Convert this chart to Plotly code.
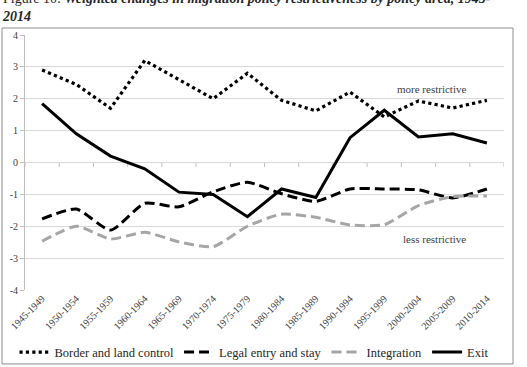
import plotly.graph_objects as go

periods = ["1945-1949", "1950-1954", "1955-1959", "1960-1964", "1965-1969", "1970-1974",
           "1975-1979", "1980-1984", "1985-1989", "1990-1994", "1995-1999", "2000-2004",
           "2005-2009", "2010-2014"]
border = [2.9, 2.45, 1.7, 3.2, 2.6, 2.0, 2.8, 1.95, 1.62, 2.21, 1.43, 1.93, 1.71, 1.95]
legal = [-1.77, -1.46, -2.12, -1.28, -1.39, -0.92, -0.62, -0.98, -1.22, -0.83, -0.83, -0.86, -1.11, -0.83]
integration = [-2.47, -2.0, -2.4, -2.19, -2.49, -2.64, -2.0, -1.62, -1.72, -1.96, -1.95, -1.35, -1.07, -1.05]
exit_ = [1.85, 0.9, 0.2, -0.2, -0.93, -1.0, -1.7, -0.83, -1.1, 0.78, 1.64, 0.8, 0.9, 0.61]
yticks = [-4, -3, -2, -1, 0, 1, 2, 3, 4]

SERIF = "Liberation Serif"

fig = go.Figure()
fig.add_trace(go.Scatter(x=periods, y=border, name="Border and land control", mode="lines",
                         line=dict(color="black", width=3.2, dash="dot")))
fig.add_trace(go.Scatter(x=periods, y=legal, name="Legal entry and stay", mode="lines",
                         line=dict(color="black", width=3, dash="10px,5px", shape="spline", smoothing=0.6)))
fig.add_trace(go.Scatter(x=periods, y=integration, name="Integration", mode="lines",
                         line=dict(color="#a6a6a6", width=3, dash="10px,5px", shape="spline", smoothing=0.6)))
fig.add_trace(go.Scatter(x=periods, y=exit_, name="Exit", mode="lines",
                         line=dict(color="black", width=3)))

shapes = []
# outer chart border
shapes.append(dict(type="rect", xref="paper", yref="paper", x0=-0.048, x1=1.0188, y0=-0.29, y1=1.0275,
                   line=dict(color="#8c8c8c", width=1), fillcolor="rgba(0,0,0,0)", layer="above"))
# category-axis line at zero with tick marks at category boundaries
shapes.append(dict(type="line", xref="paper", yref="y", x0=0, x1=1, y0=0, y1=0,
                   line=dict(color="#bfbfbf", width=1), layer="below"))
for i in range(len(periods) + 1):
    shapes.append(dict(type="line", xref="x", yref="y", x0=i - 0.5, x1=i - 0.5, y0=0, y1=-0.14,
                       line=dict(color="#bfbfbf", width=1), layer="below"))

fig.update_layout(
    width=527, height=367,
    margin=dict(l=25, r=23, t=35, b=77, autoexpand=False),
    paper_bgcolor="white", plot_bgcolor="white",
    font=dict(family=SERIF, color="#404040"),
    showlegend=True,
    legend=dict(orientation="h", x=0.478, xanchor="center", y=-0.245, yanchor="middle",
                font=dict(family=SERIF, size=12.5, color="#262626"), tracegroupgap=0,
                itemwidth=30, bgcolor="rgba(0,0,0,0)"),
    shapes=shapes,
    xaxis=dict(type="category", range=[-0.5, len(periods) - 0.5], showgrid=False, automargin=False,
               tickangle=-45, tickfont=dict(family=SERIF, size=10, color="#404040"),
               showline=False, ticks="", zeroline=False),
    yaxis=dict(range=[-4, 4], tickvals=yticks, ticktext=[str(v) for v in yticks], automargin=False,
               showgrid=True, gridcolor="#d9d9d9", gridwidth=1, zeroline=False,
               showline=True, linecolor="#bfbfbf", ticks="outside", ticklen=4, tickcolor="#bfbfbf",
               tickfont=dict(family=SERIF, size=10, color="#404040")),
    annotations=[
        dict(xref="paper", yref="paper", x=0.925, y=(290 - 81) / 255, text="more restrictive",
             showarrow=False, font=dict(family=SERIF, size=11, color="#404040")),
        dict(xref="paper", yref="paper", x=0.925, y=(290 - 247) / 255, text="less restrictive",
             showarrow=False, font=dict(family=SERIF, size=11, color="#404040")),
        dict(xref="paper", yref="paper", x=(0 - 25) / 479, xanchor="left", y=(290 - 26) / 255, yanchor="bottom",
             align="left",
             text="Figure 10: <b><i>Weighted changes in migration policy restrictiveness by policy area, 1945-</i></b><br><b><i>2014</i></b>",
             showarrow=False, font=dict(family=SERIF, size=14, color="#262626")),
    ],
)

fig.write_html("out.html")
